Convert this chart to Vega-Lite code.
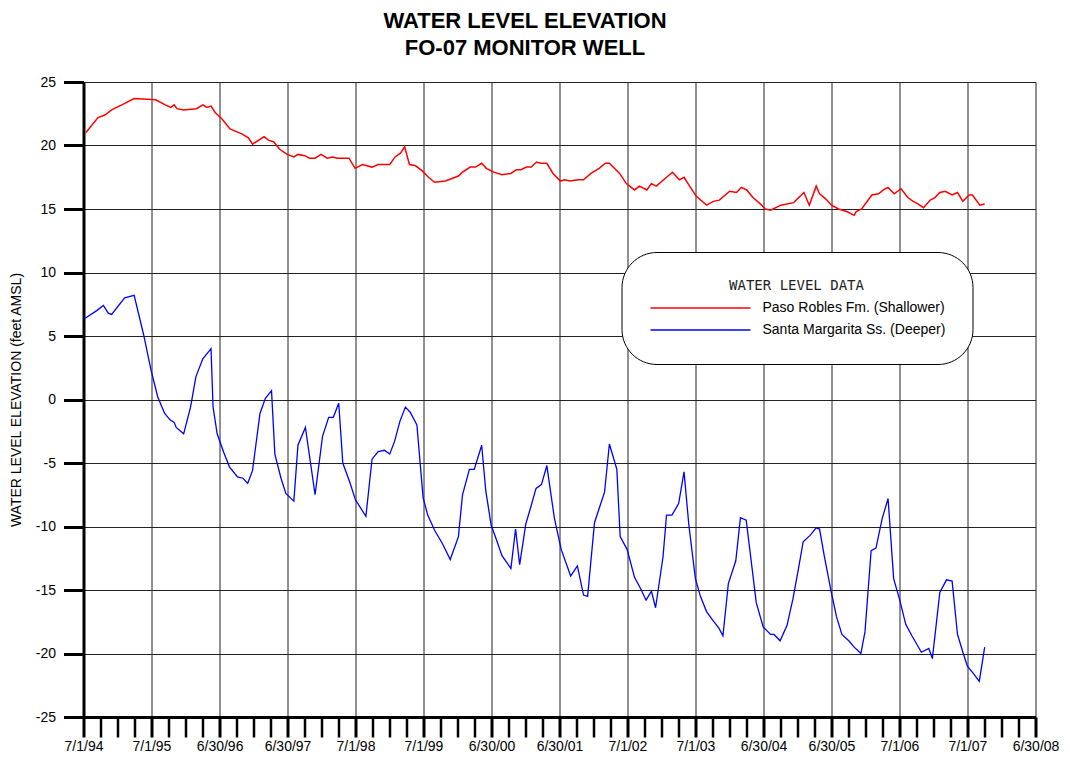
{
  "$schema": "https://vega.github.io/schema/vega-lite/v6.json",
  "autosize": "none",
  "width": 952,
  "height": 635,
  "padding": {"left": 83.5, "top": 82, "right": 34.5, "bottom": 55},
  "background": "white",
  "title": {
    "text": ["WATER LEVEL ELEVATION", "FO-07 MONITOR WELL"],
    "font": "Liberation Sans",
    "fontSize": 22,
    "fontWeight": "bold",
    "lineHeight": 27,
    "color": "black",
    "anchor": "middle",
    "baseline": "bottom",
    "dx": -34.5,
    "dy": 28,
    "offset": 21
  },
  "datasets": {
    "shallow": [
      {"date": "1994-07-13", "elev": 21.0}, {"date": "1994-09-17", "elev": 22.2}, {"date": "1994-10-24", "elev": 22.4},
      {"date": "1994-11-29", "elev": 22.8}, {"date": "1995-01-23", "elev": 23.2}, {"date": "1995-03-30", "elev": 23.7},
      {"date": "1995-07-24", "elev": 23.6}, {"date": "1995-09-13", "elev": 23.2}, {"date": "1995-10-13", "elev": 23.0},
      {"date": "1995-10-31", "elev": 23.2}, {"date": "1995-11-15", "elev": 22.9}, {"date": "1995-12-21", "elev": 22.8},
      {"date": "1996-02-28", "elev": 22.9}, {"date": "1996-04-02", "elev": 23.2}, {"date": "1996-04-24", "elev": 23.0},
      {"date": "1996-05-16", "elev": 23.1}, {"date": "1996-06-07", "elev": 22.6}, {"date": "1996-07-13", "elev": 22.1},
      {"date": "1996-08-26", "elev": 21.3}, {"date": "1996-10-31", "elev": 20.9}, {"date": "1996-12-03", "elev": 20.6},
      {"date": "1996-12-25", "elev": 20.1}, {"date": "1997-02-25", "elev": 20.7}, {"date": "1997-03-22", "elev": 20.4},
      {"date": "1997-04-17", "elev": 20.3}, {"date": "1997-05-20", "elev": 19.7}, {"date": "1997-06-29", "elev": 19.3},
      {"date": "1997-08-04", "elev": 19.1}, {"date": "1997-08-26", "elev": 19.3}, {"date": "1997-10-02", "elev": 19.2},
      {"date": "1997-10-27", "elev": 19.0}, {"date": "1997-11-26", "elev": 19.0}, {"date": "1997-12-28", "elev": 19.3},
      {"date": "1998-01-30", "elev": 19.0}, {"date": "1998-02-28", "elev": 19.1}, {"date": "1998-03-26", "elev": 19.0},
      {"date": "1998-05-27", "elev": 19.0}, {"date": "1998-06-29", "elev": 18.2}, {"date": "1998-08-08", "elev": 18.5},
      {"date": "1998-09-28", "elev": 18.3}, {"date": "1998-10-31", "elev": 18.5}, {"date": "1999-01-01", "elev": 18.5},
      {"date": "1999-01-30", "elev": 19.1}, {"date": "1999-02-28", "elev": 19.4}, {"date": "1999-03-22", "elev": 19.9},
      {"date": "1999-04-17", "elev": 18.5}, {"date": "1999-05-20", "elev": 18.4}, {"date": "1999-06-25", "elev": 18.0},
      {"date": "1999-07-28", "elev": 17.5}, {"date": "1999-08-30", "elev": 17.1}, {"date": "1999-10-27", "elev": 17.2},
      {"date": "2000-01-05", "elev": 17.6}, {"date": "2000-01-27", "elev": 17.9}, {"date": "2000-03-08", "elev": 18.3},
      {"date": "2000-04-06", "elev": 18.3}, {"date": "2000-05-09", "elev": 18.6}, {"date": "2000-06-03", "elev": 18.2},
      {"date": "2000-07-13", "elev": 17.9}, {"date": "2000-08-26", "elev": 17.7}, {"date": "2000-10-13", "elev": 17.8},
      {"date": "2000-11-11", "elev": 18.1}, {"date": "2000-12-06", "elev": 18.1}, {"date": "2001-01-05", "elev": 18.3},
      {"date": "2001-01-30", "elev": 18.3}, {"date": "2001-02-28", "elev": 18.7}, {"date": "2001-03-22", "elev": 18.6},
      {"date": "2001-04-24", "elev": 18.6}, {"date": "2001-05-27", "elev": 17.8}, {"date": "2001-07-06", "elev": 17.2},
      {"date": "2001-07-28", "elev": 17.3}, {"date": "2001-08-26", "elev": 17.2}, {"date": "2001-10-09", "elev": 17.3},
      {"date": "2001-11-07", "elev": 17.3}, {"date": "2001-12-17", "elev": 17.8}, {"date": "2002-01-30", "elev": 18.2},
      {"date": "2002-03-04", "elev": 18.6}, {"date": "2002-03-26", "elev": 18.6}, {"date": "2002-05-20", "elev": 17.8},
      {"date": "2002-06-25", "elev": 17.0}, {"date": "2002-08-08", "elev": 16.5}, {"date": "2002-09-03", "elev": 16.8},
      {"date": "2002-10-13", "elev": 16.5}, {"date": "2002-11-07", "elev": 17.0}, {"date": "2002-12-03", "elev": 16.8},
      {"date": "2003-01-27", "elev": 17.5}, {"date": "2003-02-28", "elev": 17.9}, {"date": "2003-04-06", "elev": 17.3},
      {"date": "2003-05-01", "elev": 17.5}, {"date": "2003-05-31", "elev": 16.8}, {"date": "2003-07-06", "elev": 16.0},
      {"date": "2003-08-30", "elev": 15.3}, {"date": "2003-10-05", "elev": 15.6}, {"date": "2003-11-07", "elev": 15.7},
      {"date": "2004-01-01", "elev": 16.4}, {"date": "2004-02-07", "elev": 16.3}, {"date": "2004-03-04", "elev": 16.7},
      {"date": "2004-04-02", "elev": 16.5}, {"date": "2004-05-05", "elev": 15.9}, {"date": "2004-06-14", "elev": 15.4},
      {"date": "2004-07-10", "elev": 15.0}, {"date": "2004-08-08", "elev": 14.9}, {"date": "2004-10-02", "elev": 15.3},
      {"date": "2004-12-10", "elev": 15.5}, {"date": "2005-02-03", "elev": 16.3}, {"date": "2005-03-04", "elev": 15.3},
      {"date": "2005-04-10", "elev": 16.8}, {"date": "2005-04-28", "elev": 16.2}, {"date": "2005-05-31", "elev": 15.8},
      {"date": "2005-07-01", "elev": 15.3}, {"date": "2005-08-08", "elev": 15.0}, {"date": "2005-09-21", "elev": 14.8},
      {"date": "2005-10-31", "elev": 14.5}, {"date": "2005-11-11", "elev": 14.8}, {"date": "2005-12-10", "elev": 15.0},
      {"date": "2006-02-03", "elev": 16.1}, {"date": "2006-03-11", "elev": 16.2}, {"date": "2006-04-06", "elev": 16.5},
      {"date": "2006-05-01", "elev": 16.7}, {"date": "2006-06-03", "elev": 16.2}, {"date": "2006-07-10", "elev": 16.6},
      {"date": "2006-08-15", "elev": 15.9}, {"date": "2006-09-13", "elev": 15.6}, {"date": "2006-10-09", "elev": 15.4},
      {"date": "2006-11-07", "elev": 15.1}, {"date": "2006-12-14", "elev": 15.7}, {"date": "2007-01-08", "elev": 15.9},
      {"date": "2007-02-03", "elev": 16.3}, {"date": "2007-03-04", "elev": 16.4}, {"date": "2007-04-10", "elev": 16.1},
      {"date": "2007-05-09", "elev": 16.3}, {"date": "2007-06-07", "elev": 15.6}, {"date": "2007-07-10", "elev": 16.1},
      {"date": "2007-07-28", "elev": 16.1}, {"date": "2007-09-06", "elev": 15.3}, {"date": "2007-10-02", "elev": 15.4}
    ],
    "deep": [
      {"date": "1994-07-10", "elev": 6.4}, {"date": "1994-09-10", "elev": 7.0}, {"date": "1994-10-16", "elev": 7.4},
      {"date": "1994-11-11", "elev": 6.8}, {"date": "1994-11-29", "elev": 6.7}, {"date": "1995-02-07", "elev": 8.0},
      {"date": "1995-03-30", "elev": 8.2}, {"date": "1995-05-20", "elev": 5.1}, {"date": "1995-06-29", "elev": 2.3},
      {"date": "1995-08-04", "elev": 0.2}, {"date": "1995-09-10", "elev": -1.1}, {"date": "1995-10-09", "elev": -1.6},
      {"date": "1995-10-31", "elev": -1.8}, {"date": "1995-11-11", "elev": -2.2}, {"date": "1995-12-21", "elev": -2.7},
      {"date": "1996-01-27", "elev": -0.6}, {"date": "1996-02-25", "elev": 1.8}, {"date": "1996-04-02", "elev": 3.2},
      {"date": "1996-05-16", "elev": 4.0}, {"date": "1996-05-27", "elev": -0.6}, {"date": "1996-06-18", "elev": -2.7},
      {"date": "1996-07-24", "elev": -4.2}, {"date": "1996-08-23", "elev": -5.3}, {"date": "1996-10-05", "elev": -6.1},
      {"date": "1996-11-04", "elev": -6.2}, {"date": "1996-11-29", "elev": -6.6}, {"date": "1996-12-25", "elev": -5.6},
      {"date": "1997-02-03", "elev": -1.1}, {"date": "1997-03-04", "elev": 0.1}, {"date": "1997-04-06", "elev": 0.7},
      {"date": "1997-04-24", "elev": -4.3}, {"date": "1997-05-27", "elev": -6.2}, {"date": "1997-06-22", "elev": -7.4},
      {"date": "1997-08-04", "elev": -8.0}, {"date": "1997-08-26", "elev": -3.6}, {"date": "1997-10-05", "elev": -2.2},
      {"date": "1997-11-26", "elev": -7.5}, {"date": "1998-01-05", "elev": -2.9}, {"date": "1998-02-07", "elev": -1.4},
      {"date": "1998-03-04", "elev": -1.4}, {"date": "1998-04-02", "elev": -0.3}, {"date": "1998-04-24", "elev": -5.0},
      {"date": "1998-05-31", "elev": -6.5}, {"date": "1998-07-01", "elev": -7.9}, {"date": "1998-08-26", "elev": -9.2},
      {"date": "1998-09-28", "elev": -4.7}, {"date": "1998-10-31", "elev": -4.1}, {"date": "1998-12-03", "elev": -4.0},
      {"date": "1999-01-01", "elev": -4.3}, {"date": "1999-01-27", "elev": -3.3}, {"date": "1999-02-25", "elev": -1.7},
      {"date": "1999-03-26", "elev": -0.6}, {"date": "1999-04-21", "elev": -1.0}, {"date": "1999-05-27", "elev": -2.0},
      {"date": "1999-06-29", "elev": -7.7}, {"date": "1999-07-24", "elev": -9.1}, {"date": "1999-08-30", "elev": -10.3},
      {"date": "1999-10-13", "elev": -11.4}, {"date": "1999-11-22", "elev": -12.6}, {"date": "2000-01-05", "elev": -10.8},
      {"date": "2000-01-27", "elev": -7.5}, {"date": "2000-03-04", "elev": -5.5}, {"date": "2000-03-30", "elev": -5.5},
      {"date": "2000-05-09", "elev": -3.6}, {"date": "2000-05-31", "elev": -7.2}, {"date": "2000-06-29", "elev": -9.9},
      {"date": "2000-07-24", "elev": -10.9}, {"date": "2000-08-26", "elev": -12.3}, {"date": "2000-10-13", "elev": -13.3},
      {"date": "2000-11-07", "elev": -10.2}, {"date": "2000-11-29", "elev": -13.0}, {"date": "2001-01-01", "elev": -9.8},
      {"date": "2001-01-27", "elev": -8.5}, {"date": "2001-02-25", "elev": -7.0}, {"date": "2001-03-26", "elev": -6.7},
      {"date": "2001-04-24", "elev": -5.2}, {"date": "2001-06-03", "elev": -9.3}, {"date": "2001-07-10", "elev": -11.8},
      {"date": "2001-08-30", "elev": -13.9}, {"date": "2001-10-05", "elev": -13.1}, {"date": "2001-11-07", "elev": -15.4},
      {"date": "2001-11-29", "elev": -15.5}, {"date": "2002-01-05", "elev": -9.7}, {"date": "2002-02-03", "elev": -8.4},
      {"date": "2002-02-28", "elev": -7.3}, {"date": "2002-03-26", "elev": -3.5}, {"date": "2002-05-05", "elev": -5.5},
      {"date": "2002-05-23", "elev": -10.8}, {"date": "2002-06-29", "elev": -11.8}, {"date": "2002-08-08", "elev": -14.0},
      {"date": "2002-09-10", "elev": -14.9}, {"date": "2002-10-09", "elev": -15.8}, {"date": "2002-11-07", "elev": -15.1},
      {"date": "2002-11-29", "elev": -16.4}, {"date": "2003-01-08", "elev": -12.4}, {"date": "2003-01-27", "elev": -9.1},
      {"date": "2003-02-25", "elev": -9.1}, {"date": "2003-04-02", "elev": -8.2}, {"date": "2003-05-01", "elev": -5.7},
      {"date": "2003-05-27", "elev": -9.9}, {"date": "2003-07-01", "elev": -14.1}, {"date": "2003-07-28", "elev": -15.5},
      {"date": "2003-08-30", "elev": -16.7}, {"date": "2003-09-28", "elev": -17.3}, {"date": "2003-11-04", "elev": -18.0},
      {"date": "2003-11-26", "elev": -18.6}, {"date": "2003-12-25", "elev": -14.5}, {"date": "2004-02-03", "elev": -12.7},
      {"date": "2004-02-28", "elev": -9.3}, {"date": "2004-03-30", "elev": -9.5}, {"date": "2004-05-23", "elev": -16.0},
      {"date": "2004-06-29", "elev": -17.9}, {"date": "2004-08-08", "elev": -18.5}, {"date": "2004-08-26", "elev": -18.5},
      {"date": "2004-09-28", "elev": -19.0}, {"date": "2004-11-04", "elev": -17.8}, {"date": "2004-12-06", "elev": -15.7},
      {"date": "2005-01-05", "elev": -13.3}, {"date": "2005-01-30", "elev": -11.2}, {"date": "2005-03-08", "elev": -10.7},
      {"date": "2005-04-10", "elev": -10.1}, {"date": "2005-04-28", "elev": -10.2}, {"date": "2005-05-23", "elev": -12.3},
      {"date": "2005-06-29", "elev": -15.1}, {"date": "2005-07-28", "elev": -17.1}, {"date": "2005-08-26", "elev": -18.5},
      {"date": "2005-10-02", "elev": -19.0}, {"date": "2005-10-31", "elev": -19.5}, {"date": "2005-12-06", "elev": -20.0},
      {"date": "2005-12-28", "elev": -18.3}, {"date": "2006-01-30", "elev": -11.9}, {"date": "2006-02-25", "elev": -11.7},
      {"date": "2006-03-30", "elev": -9.4}, {"date": "2006-05-01", "elev": -7.8}, {"date": "2006-05-31", "elev": -14.1},
      {"date": "2006-07-01", "elev": -15.7}, {"date": "2006-08-04", "elev": -17.7}, {"date": "2006-09-06", "elev": -18.6},
      {"date": "2006-10-27", "elev": -19.9}, {"date": "2006-12-06", "elev": -19.6}, {"date": "2006-12-25", "elev": -20.4},
      {"date": "2007-02-03", "elev": -15.2}, {"date": "2007-03-11", "elev": -14.2}, {"date": "2007-04-10", "elev": -14.3},
      {"date": "2007-05-09", "elev": -18.5}, {"date": "2007-06-07", "elev": -19.9}, {"date": "2007-07-01", "elev": -21.0},
      {"date": "2007-08-04", "elev": -21.6}, {"date": "2007-09-03", "elev": -22.2}, {"date": "2007-10-02", "elev": -19.5}
    ]
  },
  "encoding": {
    "x": {
      "field": "date",
      "type": "temporal",
      "scale": {
        "type": "utc",
        "domain": [
          {"year": 1994, "month": 7, "date": 1, "utc": true},
          {"year": 2008, "month": 7, "date": 1, "utc": true}
        ]
      },
      "axis": {
        "title": null,
        "tickCount": {"interval": "month", "step": 3},
        "labelExpr": "utcmonth(datum.value) == 6 ? (indexof([1996, 1997, 2000, 2001, 2004, 2005, 2008], utcyear(datum.value)) >= 0 ? '6/30/' : '7/1/') + utcFormat(datum.value, '%y') : ''",
        "labelFont": "Liberation Sans",
        "labelFontSize": 14,
        "labelColor": "black",
        "labelPadding": 2,
        "labelFlush": false,
        "labelOverlap": false,
        "tickSize": 20,
        "tickColor": "black",
        "tickWidth": {"condition": {"test": "utcmonth(datum.value) == 6", "value": 3}, "value": 2.5},
        "domainColor": "black",
        "domainWidth": 3,
        "grid": true,
        "gridColor": "#222",
        "gridWidth": 1,
        "gridOpacity": {"condition": {"test": "utcmonth(datum.value) == 6", "value": 1}, "value": 0},
        "encode": {
          "ticks": {"update": {"y2": {"signal": "utcmonth(datum.value) == 6 ? 20 : 10"}}}
        }
      }
    },
    "y": {
      "field": "elev",
      "type": "quantitative",
      "scale": {"domain": [-25, 25], "nice": false, "zero": false},
      "axis": {
        "title": "WATER LEVEL ELEVATION (feet AMSL)",
        "titleFont": "Liberation Sans",
        "titleFontSize": 14,
        "titleFontWeight": "normal",
        "titleColor": "black",
        "titlePadding": 12,
        "values": [-25, -20, -15, -10, -5, 0, 5, 10, 15, 20, 25],
        "labelExpr": "datum.value + ''",
        "labelFont": "Liberation Sans",
        "labelFontSize": 14,
        "labelColor": "black",
        "labelPadding": 8,
        "tickSize": 20,
        "tickWidth": 3,
        "tickColor": "black",
        "domainColor": "black",
        "domainWidth": 3,
        "grid": true,
        "gridColor": "#222",
        "gridWidth": 1
      }
    }
  },
  "layer": [
    {
      "data": {"name": "shallow"},
      "mark": {"type": "line", "strokeWidth": 1.5},
      "encoding": {
        "color": {
          "datum": "Paso Robles Fm. (Shallower)",
          "type": "nominal",
          "scale": {
            "domain": ["Paso Robles Fm. (Shallower)", "Santa Margarita Ss. (Deeper)"],
            "range": ["#ff0000", "#0000ff"]
          },
          "legend": {
            "orient": "none",
            "legendX": 538,
            "legendY": 170,
            "title": "WATER LEVEL DATA",
            "titleFont": "DejaVu Sans Mono",
            "titleFontSize": 14,
            "titleFontWeight": "normal",
            "titleColor": "#222",
            "titleAnchor": "middle",
            "titlePadding": 8,
            "strokeColor": "black",
            "cornerRadius": 35,
            "fillColor": "white",
            "padding": 27,
            "symbolType": "M-1,0H19",
            "symbolSize": 100,
            "symbolStrokeWidth": 1.5,
            "labelOffset": 100,
            "labelLimit": 400,
            "labelFont": "Liberation Sans",
            "labelFontSize": 14,
            "labelColor": "black",
            "rowPadding": 8
          }
        }
      }
    },
    {
      "data": {"name": "deep"},
      "mark": {"type": "line", "strokeWidth": 1.3},
      "encoding": {
        "color": {"datum": "Santa Margarita Ss. (Deeper)", "type": "nominal"}
      }
    }
  ],
  "config": {
    "view": {"stroke": null}
  }
}
